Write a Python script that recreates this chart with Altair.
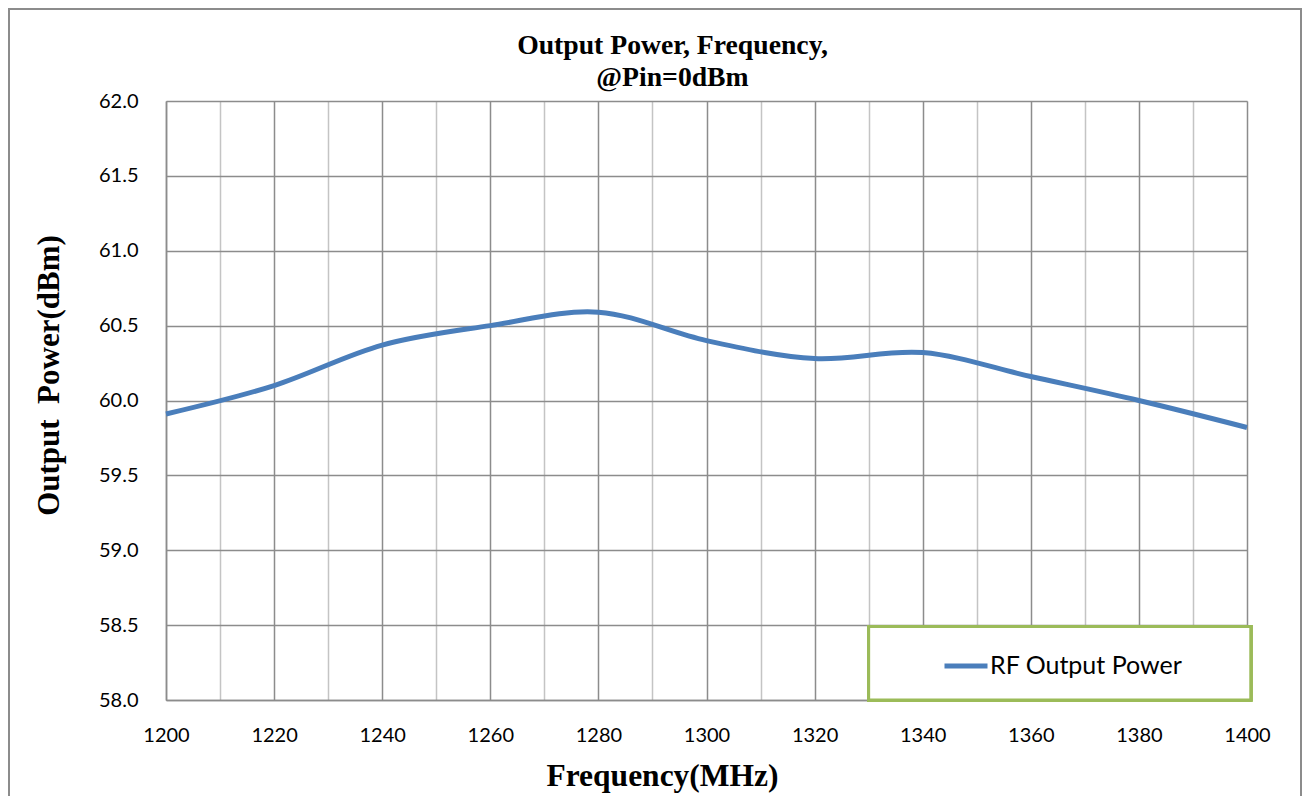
import altair as alt
import pandas as pd

# Data
freq = [1200, 1220, 1240, 1260, 1280, 1300, 1320, 1340, 1360, 1380, 1400]
power = [59.91, 60.10, 60.37, 60.50, 60.59, 60.40, 60.28, 60.32, 60.16, 60.00, 59.82]
series_name = "RF Output Power"

x_ticks = list(range(1200, 1401, 10))
y_ticks = [58.0, 58.5, 59.0, 59.5, 60.0, 60.5, 61.0, 61.5, 62.0]

df = pd.DataFrame({"freq": freq, "power": power, "series": [series_name] * len(freq)})

GRID = "#8c8c8c"
MINOR = "#c4c4c4"
BLUE = "#4A7EBB"
GREEN = "#9BBB59"

x_axis = alt.Axis(
    values=x_ticks, format="d",
    labelExpr="datum.value % 20 === 0 ? datum.label : ''",
    grid=True,
    gridColor={"condition": {"test": "datum.value % 20 === 0", "value": GRID}, "value": MINOR},
    gridWidth=1.5, ticks=False, tickSize=0,
    domainColor=GRID, domainWidth=1.5,
    labelFont="Lato", labelFontSize=20, labelColor="black",
    labelPadding=41, labelBaseline="alphabetic", labelFlush=False, labelOverlap=False,
    title="Frequency(MHz)", titleFont="Liberation Serif", titleFontSize=31.5,
    titleFontWeight="bold", titleColor="black", titleX=496, titleY=85,
    titleBaseline="alphabetic", titleAlign="center",
)

y_axis = alt.Axis(
    values=y_ticks, format=".1f",
    grid=True, gridColor=GRID, gridWidth=1.5, ticks=False, tickSize=0,
    domainColor=GRID, domainWidth=1.5,
    labelFont="Lato", labelFontSize=20, labelColor="black", labelPadding=28,
    title="Output\u00a0 Power(dBm)", titleFont="Liberation Serif", titleFontSize=31,
    titleFontWeight="bold", titleColor="black", titleX=-108, titleY=274,
    titleAngle=270, titleBaseline="alphabetic", titleAlign="center",
)

xscale = alt.Scale(domain=[1200, 1400], nice=False, zero=False)
yscale = alt.Scale(domain=[58, 62], nice=False, zero=False)

base = alt.Chart(df)

frame = base.mark_rect(fill="transparent", stroke=GRID, strokeWidth=2).encode(
    x=alt.value(-157), x2=alt.value(1135), y=alt.value(-92), y2=alt.value(800)
)

legend_box = base.mark_rect(fill="white", stroke=GREEN, strokeWidth=3).encode(
    x=alt.X(datum=1330, scale=xscale, axis=x_axis),
    x2=alt.X2(datum=1400.7),
    y=alt.Y(datum=58.0, scale=yscale, axis=y_axis),
    y2=alt.Y2(datum=58.49),
)

line = base.mark_line(interpolate="cardinal", tension=0, strokeWidth=5).encode(
    x=alt.X("freq:Q", scale=xscale, axis=x_axis),
    y=alt.Y("power:Q", scale=yscale, axis=y_axis),
    color=alt.Color(
        "series:N",
        scale=alt.Scale(range=[BLUE]),
        legend=alt.Legend(
            title=None, orient="none", legendX=776, legendY=541, padding=0,
            symbolType="stroke", symbolSize=1849, symbolStrokeWidth=5,
            labelFont="Lato", labelFontSize=25, labelColor="black", labelOffset=0,
            labelLimit=400,
        ),
    ),
)

chart = alt.layer(frame, legend_box, line).properties(
    width=1081, height=599,
    title=alt.TitleParams(
        text=["Output Power, Frequency,", "@Pin=0dBm"],
        font="Liberation Serif", fontSize=27.7, fontWeight="bold", color="black",
        anchor="middle", dx=-34, dy=92, offset=8, lineHeight=32,
    ),
    padding={"left": 158, "top": 93, "right": 55, "bottom": 96},
    autosize=alt.AutoSizeParams(type="none"),
).configure_view(stroke=GRID, strokeWidth=1.5).configure(background="white")

chart.save("out.html", embed_options={"renderer": "svg", "actions": False})
